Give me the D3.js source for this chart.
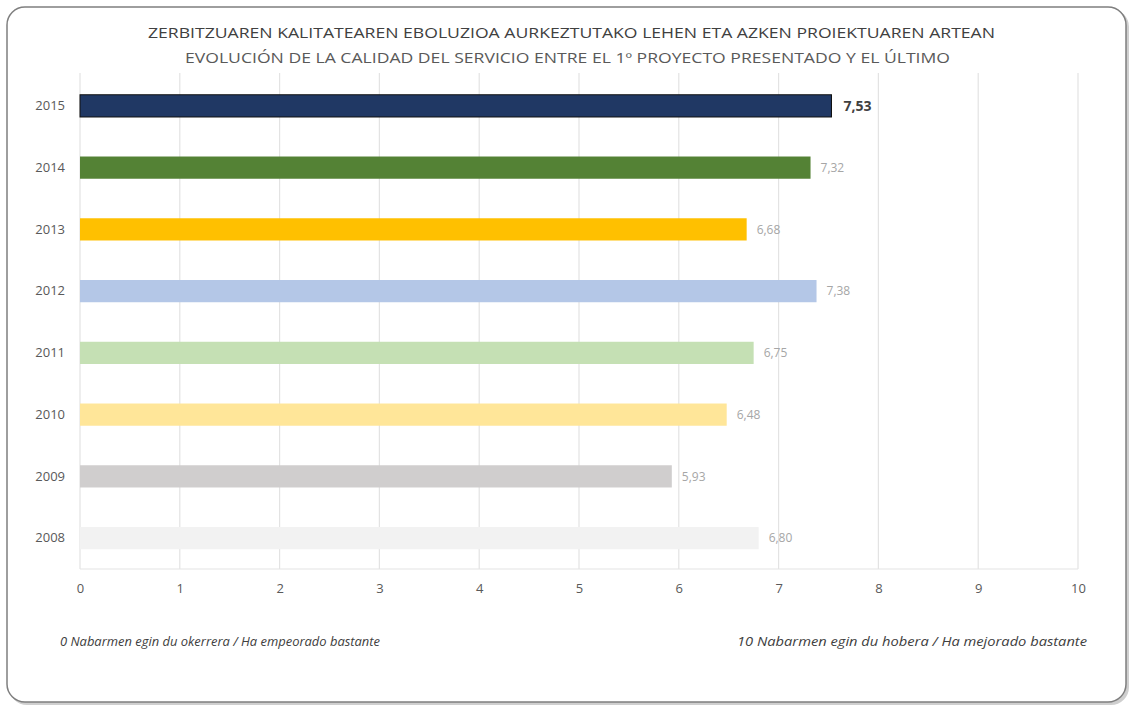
<!DOCTYPE html>
<html>
<head>
<meta charset="utf-8">
<script src="https://cdn.jsdelivr.net/npm/d3@7"></script>
<style>
  body { margin: 0; background: #fff; }
  svg text { font-family: "Open Sans", sans-serif; }
</style>
</head>
<body>
<svg id="chart" width="1132" height="708"></svg>
<script>
const years = ['2015', '2014', '2013', '2012', '2011', '2010', '2009', '2008']
const scores = [7.53, 7.32, 6.68, 7.38, 6.75, 6.48, 5.93, 6.80]
const barColors = ['#203864', '#548235', '#ffc000', '#b4c7e7', '#c5e0b4', '#ffe699', '#d0cece', '#f2f2f2']
const xTicks = [0, 1, 2, 3, 4, 5, 6, 7, 8, 9, 10]
const titleEu = 'ZERBITZUAREN KALITATEAREN EBOLUZIOA AURKEZTUTAKO LEHEN ETA AZKEN PROIEKTUAREN ARTEAN'
const titleEs = 'EVOLUCIÓN DE LA CALIDAD DEL SERVICIO ENTRE EL 1º PROYECTO PRESENTADO Y EL ÚLTIMO'
const noteLow = '0 Nabarmen egin du okerrera / Ha empeorado bastante'
const noteHigh = '10 Nabarmen egin du hobera / Ha mejorado bastante'

const data = years.map((y, i) => ({ year: y, value: scores[i], color: barColors[i] }))

const plot = { left: 80, right: 1078, top: 73, bottom: 569 }

const svg = d3.select('#chart')

// frame with a soft shadow on the right / bottom
svg.append('rect')
  .attr('x', 9).attr('y', 9)
  .attr('width', 1120).attr('height', 696)
  .attr('rx', 18)
  .attr('fill', '#cfcfcf')
svg.append('rect')
  .attr('x', 7).attr('y', 7)
  .attr('width', 1119).attr('height', 695)
  .attr('rx', 18)
  .attr('fill', '#fff')
  .attr('stroke', '#7f7f7f')
  .attr('stroke-width', 1.5)

const xScale = d3.scaleLinear()
  .domain([0, 10])
  .range([plot.left, plot.right])

const yScale = d3.scaleBand()
  .domain(years)
  .range([plot.top + 2, plot.bottom])
  .paddingInner(0.64)
  .paddingOuter(0.32)

// grid
svg.append('g')
  .selectAll('line')
  .data(xTicks)
  .enter()
  .append('line')
  .attr('x1', d => xScale(d)).attr('x2', d => xScale(d))
  .attr('y1', plot.top).attr('y2', plot.bottom)
  .attr('stroke', '#e3e3e3')
  .attr('stroke-width', 1.2)
svg.append('line')
  .attr('x1', plot.left).attr('x2', plot.right)
  .attr('y1', plot.bottom).attr('y2', plot.bottom)
  .attr('stroke', '#e3e3e3')
  .attr('stroke-width', 1.2)

// bars
svg.append('g')
  .selectAll('rect')
  .data(data)
  .enter()
  .append('rect')
  .attr('x', xScale(0))
  .attr('y', d => yScale(d.year))
  .attr('width', d => xScale(d.value) - xScale(0))
  .attr('height', yScale.bandwidth())
  .attr('fill', d => d.color)
  .attr('stroke', d => d.year === '2015' ? '#111' : 'none')
  .attr('stroke-width', 1)

// value labels
svg.append('g')
  .selectAll('text')
  .data(data)
  .enter()
  .append('text')
  .attr('x', d => xScale(d.value) + (d.year === '2015' ? 12 : 10))
  .attr('y', d => yScale(d.year) + yScale.bandwidth() / 2)
  .attr('dy', '0.35em')
  .attr('font-size', d => d.year === '2015' ? 14 : 12)
  .attr('font-weight', d => d.year === '2015' ? 'bold' : 'normal')
  .attr('fill', d => d.year === '2015' ? '#404040' : '#a6a6a6')
  .text(d => d.value.toFixed(2).replace('.', ','))

// y axis labels
const yAxis = d3.axisLeft(yScale).tickSize(0).tickPadding(15)
const gy = svg.append('g')
  .attr('transform', `translate(${plot.left}, 0)`)
  .call(yAxis)
gy.select('.domain').remove()
gy.selectAll('text').attr('font-size', 13).attr('fill', '#595959')
  .style('font-family', '"Open Sans", sans-serif')

// x axis labels
const xAxis = d3.axisBottom(xScale).tickValues(xTicks).tickSize(0).tickPadding(15)
const gx = svg.append('g')
  .attr('transform', `translate(0, ${plot.bottom})`)
  .call(xAxis)
gx.select('.domain').remove()
gx.selectAll('text').attr('font-size', 13).attr('fill', '#595959')
  .style('font-family', '"Open Sans", sans-serif')

// titles
svg.append('text')
  .attr('x', 148).attr('y', 38)
  .attr('font-size', 14.5)
  .attr('fill', '#404040')
  .attr('textLength', 847)
  .attr('lengthAdjust', 'spacingAndGlyphs')
  .text(titleEu)
svg.append('text')
  .attr('x', 185).attr('y', 63)
  .attr('font-size', 14.5)
  .attr('fill', '#595959')
  .attr('textLength', 765)
  .attr('lengthAdjust', 'spacingAndGlyphs')
  .text(titleEs)

// footnotes
svg.append('text')
  .attr('x', 60).attr('y', 646)
  .attr('font-size', 12)
  .attr('font-style', 'italic')
  .attr('fill', '#404040')
  .attr('textLength', 320)
  .attr('lengthAdjust', 'spacingAndGlyphs')
  .text(noteLow)
svg.append('text')
  .attr('x', 737).attr('y', 646)
  .attr('font-size', 12)
  .attr('font-style', 'italic')
  .attr('fill', '#404040')
  .attr('textLength', 350)
  .attr('lengthAdjust', 'spacingAndGlyphs')
  .text(noteHigh)
</script>
</body>
</html>
